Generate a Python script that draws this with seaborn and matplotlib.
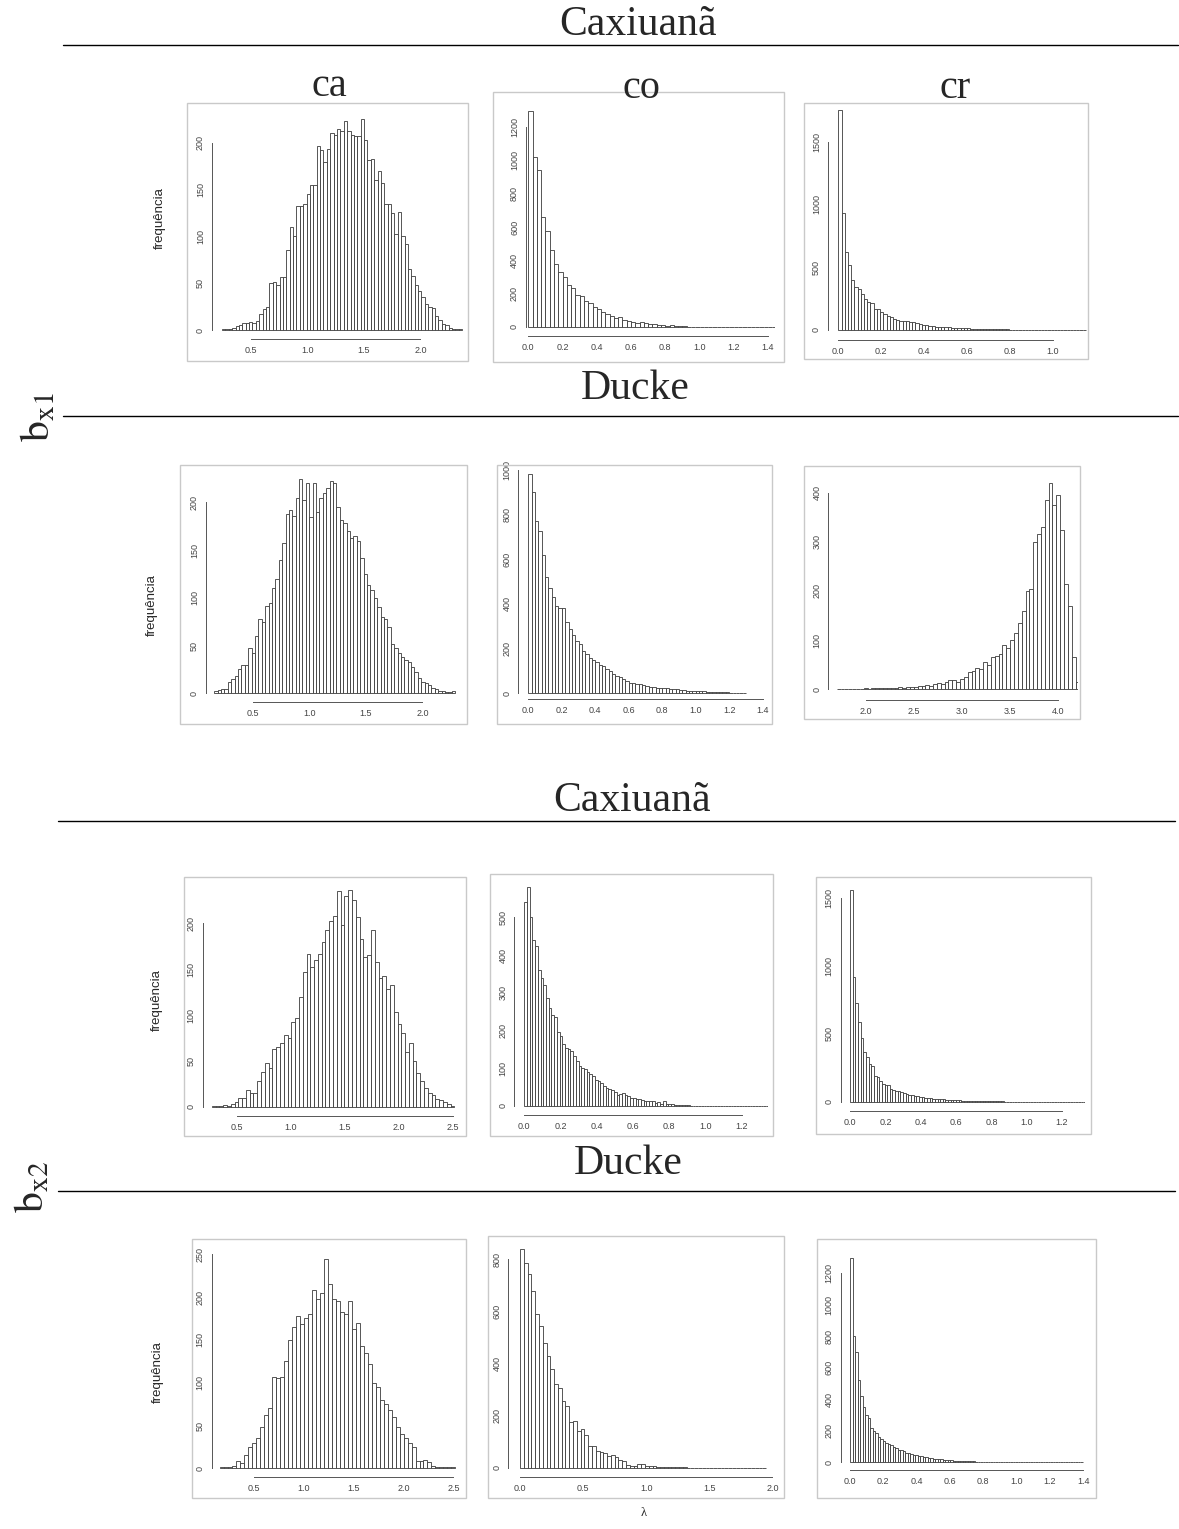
import numpy as np
import pandas as pd
import matplotlib
matplotlib.use('Agg')
import matplotlib.pyplot as plt
import seaborn as sns
from matplotlib.patches import Rectangle
from matplotlib.lines import Line2D

# ---- dados: inicio da primeira classe, largura da classe, frequencias ----
# b_x1, Caxiuana
cax1_ca_start, cax1_ca_width = 0.24, 0.03
cax1_ca_counts = [1, 1, 1, 2, 4, 5, 7, 8, 9, 8, 10, 17, 22, 25, 50, 51, 48, 57, 57, 86,
                  110, 100, 133, 132, 135, 145, 155, 155, 197, 192, 180, 193, 210, 208, 215, 213, 223, 213, 208, 207,
                  207, 225, 203, 182, 183, 160, 170, 157, 135, 135, 125, 103, 126, 100, 92, 65, 58, 48, 42, 35,
                  28, 25, 24, 15, 11, 6, 5, 2, 1, 1, 1]
cax1_co_start, cax1_co_width = 0.0, 0.025
cax1_co_counts = [1300, 1020, 940, 660, 575, 460, 380, 330, 300, 250, 230, 190, 185, 155, 145, 120, 105, 90, 75, 65,
                  50, 58, 40, 35, 30, 25, 28, 20, 18, 15, 10, 8, 6, 10, 5, 3, 2, 1, 1, 1,
                  0, 1, 0, 0, 0, 0, 0, 0, 0, 0, 0, 0, 0, 0, 0, 0, 0, 0]
cax1_cr_start, cax1_cr_width = 0.0, 0.015
cax1_cr_counts = [1750, 930, 620, 520, 400, 345, 330, 290, 250, 220, 218, 170, 165, 140, 130, 110, 105, 88, 80, 72,
                  70, 68, 65, 60, 52, 45, 40, 36, 34, 30, 25, 22, 22, 20, 20, 18, 16, 15, 14, 12,
                  12, 10, 10, 9, 8, 7, 6, 6, 5, 5, 5, 4, 4, 3, 3, 3, 2, 2, 2, 2,
                  1, 1, 1, 1, 1, 1, 0, 0, 0, 0, 0, 0, 0, 0, 0, 0, 0]
# b_x1, Ducke
duc1_ca_start, duc1_ca_width = 0.16, 0.03
duc1_ca_counts = [2, 3, 5, 5, 12, 15, 18, 25, 30, 30, 47, 42, 60, 78, 75, 92, 95, 110, 120, 140,
                  158, 188, 192, 186, 205, 225, 203, 220, 185, 220, 190, 205, 210, 215, 222, 220, 195, 182, 178, 170,
                  163, 165, 160, 142, 125, 113, 108, 100, 90, 80, 78, 70, 52, 47, 42, 38, 35, 33, 28, 22,
                  16, 12, 11, 9, 6, 4, 2, 2, 1, 1, 2]
duc1_co_start, duc1_co_width = 0.0, 0.02
duc1_co_counts = [980, 900, 770, 725, 620, 520, 470, 430, 390, 380, 380, 320, 290, 260, 235, 220, 190, 175, 160, 150,
                  140, 125, 120, 110, 100, 88, 78, 72, 62, 55, 48, 45, 42, 40, 35, 32, 28, 26, 25, 24,
                  25, 22, 20, 20, 18, 15, 14, 12, 12, 10, 10, 8, 8, 7, 7, 6, 5, 5, 4, 4,
                  3, 3, 2, 1, 1]
duc1_cr_start, duc1_cr_width = 1.70, 0.04
duc1_cr_counts = [1, 0, 1, 0, 1, 1, 1, 2, 1, 2, 2, 2, 3, 2, 3, 3, 4, 3, 4, 5,
                  5, 6, 6, 8, 7, 10, 12, 10, 15, 18, 18, 15, 20, 25, 35, 38, 43, 42, 55, 50,
                  65, 68, 72, 90, 85, 100, 115, 135, 160, 200, 205, 300, 315, 330, 385, 420, 375, 395, 325, 215,
                  170, 66, 15]
# b_x2, Caxiuana
cax2_ca_start, cax2_ca_width = 0.27, 0.035
cax2_ca_counts = [1, 1, 1, 2, 1, 3, 5, 10, 10, 18, 15, 15, 28, 38, 48, 42, 63, 65, 70, 78,
                  75, 92, 97, 120, 147, 167, 152, 160, 167, 180, 193, 203, 208, 235, 198, 230, 236, 225, 207, 183,
                  163, 165, 193, 158, 140, 143, 128, 133, 103, 90, 80, 60, 70, 50, 37, 28, 20, 15, 13, 8,
                  7, 5, 3, 1]
cax2_co_start, cax2_co_width = 0.0, 0.015
cax2_co_counts = [540, 580, 500, 440, 425, 360, 340, 320, 285, 260, 240, 235, 195, 185, 165, 155, 150, 145, 132, 120,
                  105, 100, 97, 90, 85, 80, 70, 65, 60, 52, 48, 44, 42, 38, 30, 33, 35, 30, 26, 22,
                  20, 18, 18, 15, 14, 12, 14, 12, 8, 10, 6, 12, 5, 4, 4, 3, 3, 3, 2, 2,
                  2, 1, 1, 1, 1, 1, 0, 1, 0, 1, 0, 0, 1, 0, 0, 0, 0, 0, 0, 0,
                  0, 0, 0, 0, 0, 0, 0, 0, 0, 0]
cax2_cr_start, cax2_cr_width = 0.0, 0.015
cax2_cr_counts = [1560, 920, 730, 590, 470, 370, 330, 280, 260, 190, 180, 150, 130, 125, 120, 95, 88, 82, 80, 70,
                  62, 58, 50, 48, 42, 40, 36, 32, 30, 27, 25, 23, 22, 20, 19, 17, 16, 15, 13, 12,
                  11, 10, 9, 8, 7, 6, 6, 5, 5, 4, 4, 3, 3, 3, 2, 2, 2, 2, 1, 1,
                  1, 1, 1, 1, 1, 1, 0, 1, 0, 0, 1, 0, 0, 0, 0, 0, 0, 0, 0, 0,
                  0, 0, 0, 0, 0, 0, 0, 0, 0]
# b_x2, Ducke
duc2_ca_start, duc2_ca_width = 0.16, 0.04
duc2_ca_counts = [1, 1, 2, 3, 8, 6, 15, 25, 30, 35, 48, 62, 70, 107, 105, 107, 125, 150, 165, 178,
                  168, 175, 180, 208, 198, 205, 245, 215, 198, 195, 182, 180, 195, 163, 170, 143, 135, 122, 100, 95,
                  80, 75, 68, 60, 48, 40, 35, 30, 25, 8, 8, 10, 7, 3, 2, 1, 1, 1, 1]
duc2_co_start, duc2_co_width = 0.0, 0.03
duc2_co_counts = [838, 785, 745, 680, 590, 545, 480, 430, 380, 320, 305, 255, 235, 175, 180, 140, 150, 125, 85, 85,
                  65, 60, 55, 45, 48, 40, 28, 25, 12, 8, 5, 15, 15, 8, 6, 5, 4, 4, 3, 3,
                  2, 2, 1, 1, 0, 0, 0, 0, 0, 0, 0, 0, 0, 0, 0, 0, 0, 0, 0, 0,
                  0, 0, 0, 0, 0]
duc2_cr_start, duc2_cr_width = 0.0, 0.015
duc2_cr_counts = [1300, 800, 700, 520, 420, 350, 300, 280, 215, 200, 185, 160, 150, 135, 125, 115, 110, 100, 90, 78,
                  80, 70, 62, 58, 50, 45, 45, 40, 38, 35, 32, 30, 26, 24, 22, 20, 18, 16, 15, 13,
                  12, 10, 9, 8, 8, 7, 6, 6, 5, 5, 4, 4, 3, 3, 3, 2, 2, 2, 2, 1,
                  1, 1, 1, 1, 1, 0, 1, 1, 0, 1, 0, 1, 0, 0, 0, 0, 0, 0, 0, 0,
                  0, 0, 0, 0, 0, 0, 0, 0, 0, 0, 0, 0, 0]

# ticks de cada painel
x_ca1 = [0.5, 1.0, 1.5, 2.0]
x_ca2 = [0.5, 1.0, 1.5, 2.0, 2.5]
x_14 = [0.0, 0.2, 0.4, 0.6, 0.8, 1.0, 1.2, 1.4]
x_12 = [0.0, 0.2, 0.4, 0.6, 0.8, 1.0, 1.2]
x_10 = [0.0, 0.2, 0.4, 0.6, 0.8, 1.0]
x_cr_duc1 = [2.0, 2.5, 3.0, 3.5, 4.0]
x_20 = [0.0, 0.5, 1.0, 1.5, 2.0]

W, H = 1179, 1529
sns.set_style('white')
plt.rcParams['font.family'] = ['Liberation Sans', 'DejaVu Sans']
fig = plt.figure(figsize=(W / 100, H / 100), dpi=100)


def fx(px):
    return px / W


def fy(py):
    return 1 - py / H


def painel(start, width, counts, frame, box, xlim, ylim, xticks, yticks):
    # moldura cinza da imagem original
    fig.add_artist(Rectangle((fx(frame[0]), fy(frame[3])), (frame[2] - frame[0]) / W,
                             (frame[3] - frame[1]) / H, transform=fig.transFigure,
                             fill=False, ec='#c9c9c9', lw=1.0))
    l, r, t, b = box
    ax = fig.add_axes([fx(l), fy(b), (r - l) / W, (b - t) / H])
    ax.patch.set_visible(False)
    n = len(counts)
    centers = start + width * (np.arange(n) + 0.5)
    df = pd.DataFrame({'x': centers, 'n': counts})
    sns.histplot(data=df, x='x', weights='n', binwidth=width, binrange=(start, start + n * width),
                 color='white', alpha=1, edgecolor='#3a3a3a', linewidth=0.6, ax=ax)
    ax.set_xlim(*xlim)
    ax.set_ylim(*ylim)
    ax.set_xlabel('')
    ax.set_ylabel('')
    for s in ['top', 'right']:
        ax.spines[s].set_visible(False)
    ax.spines['left'].set_bounds(yticks[0], yticks[-1])
    ax.spines['bottom'].set_bounds(xticks[0], xticks[-1])
    for s in ['left', 'bottom']:
        ax.spines[s].set_color('#555555')
        ax.spines[s].set_linewidth(0.7)
    ax.set_xticks(xticks, labels=[f'{v:.1f}' for v in xticks])
    ax.set_yticks(yticks, labels=[str(v) for v in yticks])
    ax.tick_params(axis='both', direction='out', length=3, width=0.6, color='#555555',
                   labelsize=6.5, labelcolor='#444444', pad=2)
    ax.tick_params(axis='y', labelrotation=90)
    for lab in ax.get_yticklabels():
        lab.set_va('center')
    return ax


painel(cax1_ca_start, cax1_ca_width, cax1_ca_counts, (187, 103, 468, 361), (212, 465, 111, 339),
       (0.151, 2.396), (-9.6, 234), x_ca1, [0, 50, 100, 150, 200])
painel(cax1_co_start, cax1_co_width, cax1_co_counts, (493, 92, 784, 362), (526, 775, 102, 336),
       (-0.0135, 1.441), (-56, 1352), x_14, [0, 200, 400, 600, 800, 1000, 1200])
painel(cax1_cr_start, cax1_cr_width, cax1_cr_counts, (804, 103, 1088, 359), (828, 1087, 104, 340),
       (-0.048, 1.160), (-80, 1800), x_10, [0, 500, 1000, 1500])

painel(duc1_ca_start, duc1_ca_width, duc1_ca_counts, (180, 465, 467, 724), (206, 457, 470, 701.7),
       (0.087, 2.306), (-8.8, 234), x_ca1, [0, 50, 100, 150, 200])
painel(duc1_co_start, duc1_co_width, duc1_co_counts, (497, 465, 772, 724), (518.3, 768, 466, 699.3),
       (-0.06, 1.432), (-27, 1018), x_14, [0, 200, 400, 600, 800, 1000])
painel(duc1_cr_start, duc1_cr_width, duc1_cr_counts, (804, 466, 1080, 719), (828.3, 1078, 474, 700),
       (1.612, 4.205), (-21.8, 438), x_cr_duc1, [0, 100, 200, 300, 400])

painel(cax2_ca_start, cax2_ca_width, cax2_ca_counts, (184, 877, 466, 1136), (202.7, 455, 882, 1116),
       (0.186, 2.516), (-10.1, 245), x_ca2, [0, 50, 100, 150, 200])
painel(cax2_co_start, cax2_co_width, cax2_co_counts, (490, 874, 773, 1136), (514.3, 768, 878.5, 1115),
       (-0.055, 1.346), (-23.9, 603), x_12, [0, 100, 200, 300, 400, 500])
painel(cax2_cr_start, cax2_cr_width, cax2_cr_counts, (816, 877, 1091, 1134), (840.7, 1085, 880.7, 1110.7),
       (-0.053, 1.33), (-66, 1630), x_12, [0, 500, 1000, 1500])

painel(duc2_ca_start, duc2_ca_width, duc2_ca_counts, (192, 1239, 466, 1498), (211.7, 458, 1250, 1477.3),
       (0.076, 2.546), (-10.5, 255), x_ca2, [0, 50, 100, 150, 200, 250])
painel(duc2_co_start, duc2_co_width, duc2_co_counts, (488, 1236, 784, 1498), (508.3, 776.7, 1240.5, 1476.7),
       (-0.093, 2.034), (-34.5, 872), x_20, [0, 200, 400, 600, 800])
painel(duc2_cr_start, duc2_cr_width, duc2_cr_counts, (817, 1239, 1096, 1498), (840.7, 1086.7, 1245, 1470),
       (-0.056, 1.42), (-49, 1380), x_14, [0, 200, 400, 600, 800, 1000, 1200])

# titulos e linhas
serif = ['Liberation Serif', 'DejaVu Serif']
for txt, x, y in [('Caxiuanã', 638, 25), ('Ducke', 635, 389), ('Caxiuanã', 632, 801), ('Ducke', 628, 1164)]:
    fig.text(fx(x), fy(y), txt, family=serif, fontsize=30, ha='center', va='center')
for txt, x, y in [('ca', 329, 87), ('co', 642, 89), ('cr', 955, 89)]:
    fig.text(fx(x), fy(y), txt, family=serif, fontsize=29, ha='center', va='center')
for x0, x1, y in [(63, 1178, 45), (63, 1178, 416), (58, 1175, 821), (58, 1175, 1191)]:
    fig.add_artist(Line2D([fx(x0), fx(x1)], [fy(y), fy(y)], transform=fig.transFigure,
                          color='black', lw=1.0))
fig.text(fx(38), fy(417), r'$\mathrm{b}_{\mathrm{x1}}$', fontsize=30, rotation=90,
         ha='center', va='center', math_fontfamily='stix')
fig.text(fx(32), fy(1187), r'$\mathrm{b}_{\mathrm{x2}}$', fontsize=30, rotation=90,
         ha='center', va='center', math_fontfamily='stix')
for x, y in [(160, 218), (152, 605), (157, 1000), (158, 1372)]:
    fig.text(fx(x), fy(y), 'frequência', fontsize=9.5, rotation=90, ha='center', va='center')
fig.text(fx(644), fy(1513), 'λ', family=serif, fontsize=9, ha='center', va='center')

fig.savefig('out.png', dpi=100)
